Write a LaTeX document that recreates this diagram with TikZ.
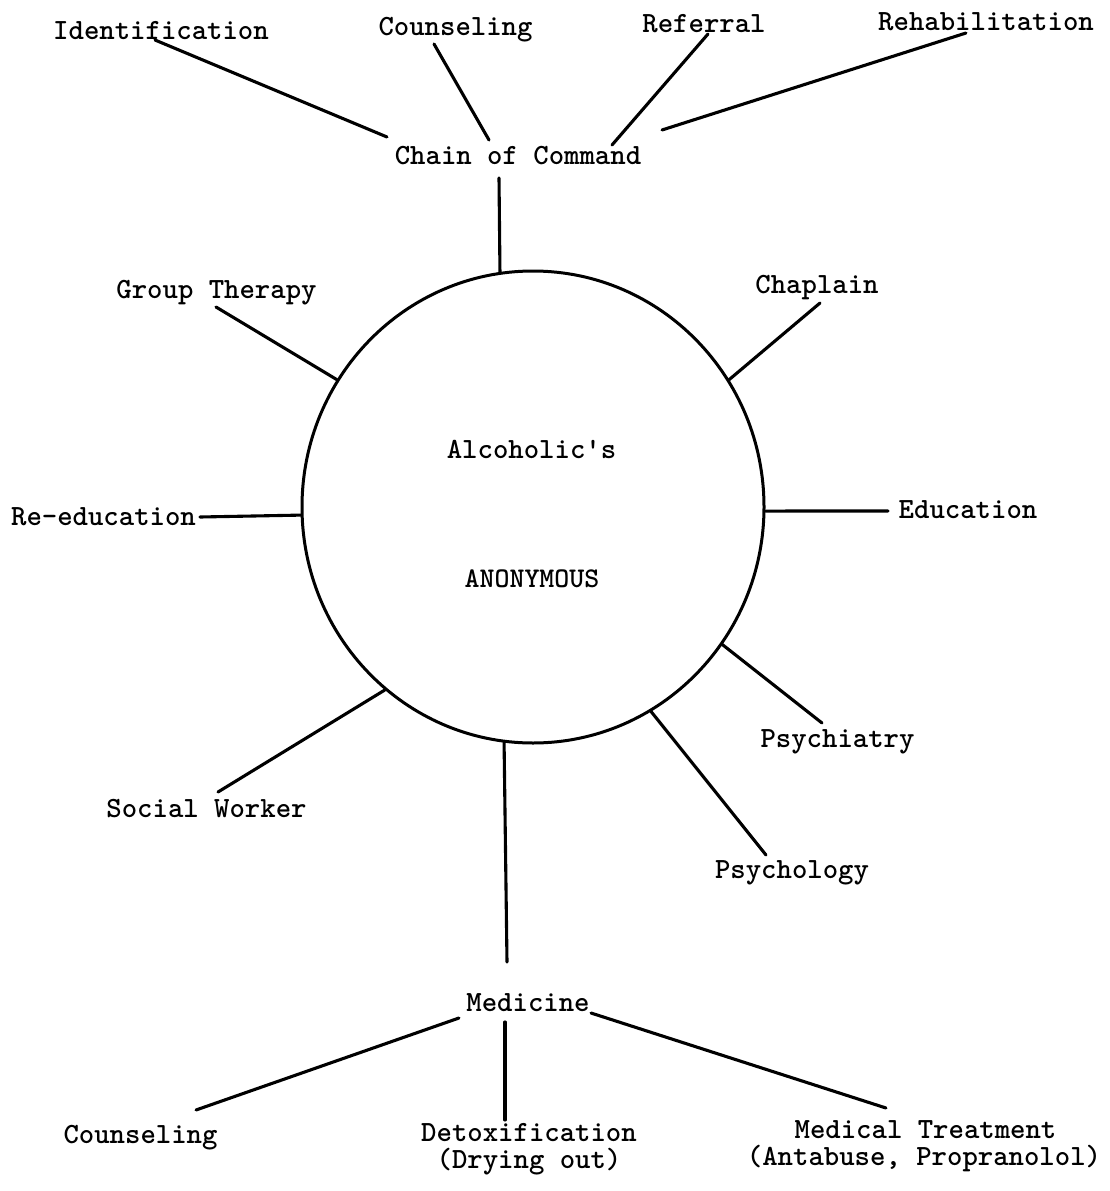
\documentclass[tikz,border=0pt]{standalone}
\usetikzlibrary{calc,shapes.geometric}
\begin{document}
\begin{tikzpicture}[x=1pt,y=-1pt,
  lbl/.style={font=\fontsize{29.33}{32}\selectfont\ttfamily\bfseries, inner sep=0pt, anchor=base},
  inner/.style={font=\fontsize{28.5}{32}\selectfont\ttfamily\bfseries, inner sep=0pt, anchor=base},
  conn/.style={line width=3.1pt, line cap=round},
  ring/.style={draw, ellipse, line width=3pt, minimum width=462pt, minimum height=472pt, inner sep=0pt}]
\useasboundingbox[fill=white] (0,0) rectangle (1110,1191);

% central circle
\node[ring] (circ) at (533,507) {};
\node[lbl] (alc) at (531.5,458) {Alcoholic's};
\node[inner] (anon) at (532,587) {ANONYMOUS};

% top group
\node[lbl] (chain) at (518,164) {Chain of Command};
\node[lbl] (ident) at (161,39) {Identification};
\node[lbl] (couns1) at (455.5,35) {Counseling};
\node[lbl] (refer) at (704,32) {Referral};
\node[lbl] (rehab) at (986,30) {Rehabilitation};

% spokes
\node[lbl] (group) at (216.5,298) {Group Therapy};
\node[lbl] (chap) at (817,293) {Chaplain};
\node[lbl] (reed) at (103.5,525) {Re-education};
\node[lbl] (edu) at (968,518) {Education};
\node[lbl] (social) at (206.5,817) {Social Worker};
\node[lbl] (psychi) at (837.5,747) {Psychiatry};
\node[lbl] (psycho) at (792,878) {Psychology};

% bottom group
\node[lbl] (med) at (528,1011) {Medicine};
\node[lbl] (couns2) at (140.5,1143) {Counseling};
\node[lbl] (detox) at (529,1141) {Detoxification};
\node[lbl] (detoxb) at (529,1168) {(Drying out)};
\node[lbl] (medtr) at (925.5,1138) {Medical Treatment};
\node[lbl] (medtrb) at (924,1165) {(Antabuse, Propranolol)};

% connectors: chain of command
\draw[conn] ($(chain.base)+(-131,-27)$) -- ($(ident.base)+(-6,1)$);
\draw[conn] ($(chain.base)+(-29,-24)$) -- ($(couns1.base)+(-21.5,9)$);
\draw[conn] ($(chain.base)+(94,-19)$) -- ($(refer.base)+(4,2)$);
\draw[conn] ($(chain.base)+(144,-34)$) -- ($(rehab.base)+(-20,3)$);
\draw[conn] ($(chain.base)+(-19,14)$) -- (circ.98.2);

% connectors: spokes
\draw[conn] (circ.147.6) -- ($(group.base)+(-0.5,9)$);
\draw[conn] (circ.33.2) -- ($(chap.base)+(3,10)$);
\draw[conn] (circ.182.5) -- ($(reed.base)+(96.5,-8)$);
\draw[conn] (circ.-1) -- ($(edu.base)+(-80,-7)$);
\draw[conn] (circ.231.3) -- ($(social.base)+(11.5,-25)$);
\draw[conn] (circ.-36.6) -- ($(psychi.base)+(-15.5,-24)$);
\draw[conn] (circ.-60.6) -- ($(psycho.base)+(-26,-23)$);
\draw[conn] (circ.263.5) -- ($(med.base)+(-21,-49)$);

% connectors: medicine
\draw[conn] ($(med.base)+(-69,7)$) -- ($(couns2.base)+(55.5,-33)$);
\draw[conn] ($(med.base)+(-23,11)$) -- ($(detox.base)+(-24,-21)$);
\draw[conn] ($(med.base)+(63,2)$) -- ($(medtr.base)+(-39.5,-30)$);
\end{tikzpicture}
\end{document}
